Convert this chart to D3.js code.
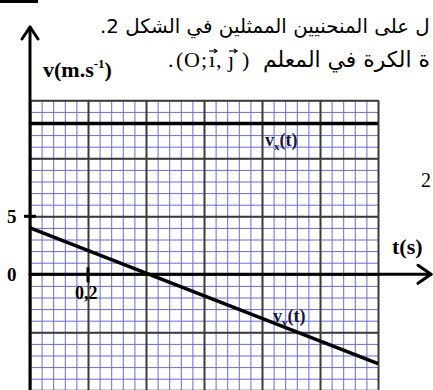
<!DOCTYPE html>
<html>
<head>
<meta charset="utf-8">
<script src="https://cdn.jsdelivr.net/npm/d3@7"></script>
<style>
  html, body { margin: 0; padding: 0; background: #fff; }
  svg { display: block; }
  .lat { font-family: "Liberation Serif", "Times New Roman", serif; }
  .ar { font-family: "DejaVu Sans", "Noto Sans", sans-serif; }
</style>
</head>
<body>
<div id="wrapper"></div>
<script>
const vxT = [0, 1.2];
const vxV = [13, 13];
const vyT = [0, 1.2];
const vyV = [4, -7.7];

// labelled ticks
const yTickValues = [5, 0];
const yTickText = ["5", "0"];
const xTickValues = [0.2];
const xTickText = ["0,2"];

// grid steps
const tMax = 1.2, tMajorStep = 0.2, tMinorStep = 0.04;
const vTop = 15, vBottom = -11, vMajorStep = 5, vMinorStep = 1;

const width = 433, height = 390;

const svg = d3.select("#wrapper")
  .append("svg")
  .attr("width", width)
  .attr("height", height);

const x = d3.scaleLinear().domain([0, tMax]).range([30, 378]);
const y = d3.scaleLinear().domain([0, vTop]).range([274.3, 100.3]);

const gridTop = y(vTop), gridBottom = y(vBottom);

const minorT = d3.range(0, tMax + 1e-9, tMinorStep).map(d => +d.toFixed(3));
const majorT = d3.range(0, tMax + 1e-9, tMajorStep).map(d => +d.toFixed(3));
const minorV = d3.range(vBottom, vTop + 1e-9, vMinorStep);
const majorV = minorV.filter(d => d % vMajorStep === 0);

function grid(axis, cls, color, w) {
  const g = svg.append("g").attr("class", cls).call(axis);
  g.select(".domain").remove();
  g.selectAll("line").attr("stroke", color).attr("stroke-width", w);
  g.selectAll("text").remove();
  return g;
}

// minor grid (blue)
grid(d3.axisBottom(x).tickValues(minorT).tickSize(-(gridBottom - gridTop)).tickFormat(""),
  "gx minor", "#6a6ad6", 1).attr("transform", `translate(0,${gridBottom})`);
grid(d3.axisLeft(y).tickValues(minorV).tickSize(-(x(tMax) - x(0))).tickFormat(""),
  "gy minor", "#6a6ad6", 1).attr("transform", `translate(${x(0)},0)`);

// major grid (dark)
grid(d3.axisBottom(x).tickValues(majorT).tickSize(-(gridBottom - gridTop)).tickFormat(""),
  "gx major", "#3a3a3a", 2).attr("transform", `translate(0,${gridBottom})`);
grid(d3.axisLeft(y).tickValues(majorV).tickSize(-(x(tMax) - x(0))).tickFormat(""),
  "gy major", "#3a3a3a", 2).attr("transform", `translate(${x(0)},0)`);

// axes with arrows
const axisG = svg.append("g").attr("stroke", "#000").attr("fill", "none")
  .attr("stroke-width", 3).attr("stroke-linecap", "round").attr("stroke-linejoin", "round");
axisG.append("line").attr("x1", x(0)).attr("y1", 27).attr("x2", x(0)).attr("y2", height + 5);
axisG.append("polyline").attr("points", `${x(0) - 8},39 ${x(0)},27 ${x(0) + 8},39`);
axisG.append("line").attr("x1", x(0)).attr("y1", y(0)).attr("x2", 431).attr("y2", y(0));
axisG.append("polyline").attr("points", `418,${y(0) - 9} 431,${y(0)} 418,${y(0) + 9}`);

// tick marks
svg.selectAll("line.ytick").data(yTickValues.filter(d => d !== 0)).enter()
  .append("line").attr("class", "ytick")
  .attr("x1", x(0) - 6).attr("x2", x(0) + 6)
  .attr("y1", d => y(d)).attr("y2", d => y(d))
  .attr("stroke", "#000").attr("stroke-width", 3);
svg.selectAll("line.xtick").data(xTickValues).enter()
  .append("line").attr("class", "xtick")
  .attr("x1", d => x(d)).attr("x2", d => x(d))
  .attr("y1", y(0) - 7).attr("y2", y(0) + 8)
  .attr("stroke", "#000").attr("stroke-width", 3);

// curves
const line = d3.line().x(d => x(d[0])).y(d => y(d[1]));
svg.append("path").datum(d3.zip(vxT, vxV)).attr("d", line)
  .attr("fill", "none").attr("stroke", "#000").attr("stroke-width", 3.5);
svg.append("path").datum(d3.zip(vyT, vyV)).attr("d", line)
  .attr("fill", "none").attr("stroke", "#000").attr("stroke-width", 3.5);

// tick labels
svg.selectAll("text.ylab").data(yTickValues).enter()
  .append("text").attr("class", "ylab lat")
  .attr("x", 7).attr("y", d => y(d) + 7)
  .attr("font-size", 19).attr("font-weight", "bold")
  .text((d, i) => yTickText[i]);
svg.selectAll("text.xlab").data(xTickValues).enter()
  .append("text").attr("class", "xlab lat")
  .attr("x", d => x(d) - 13).attr("y", y(0) + 25)
  .attr("font-size", 18).attr("font-weight", "bold")
  .text((d, i) => xTickText[i]);

// axis titles
const vTitle = svg.append("text").attr("class", "lat")
  .attr("x", 43).attr("y", 77).attr("font-size", 22).attr("font-weight", "bold");
vTitle.append("tspan").text("v(m.s");
vTitle.append("tspan").attr("font-size", 13).attr("dy", -9).text("-1");
vTitle.append("tspan").attr("dy", 9).text(")");

svg.append("text").attr("class", "lat")
  .attr("x", 392).attr("y", 254).attr("font-size", 22).attr("font-weight", "bold")
  .text("t(s)");

// curve labels
function curveLabel(px, py, sub) {
  const t = svg.append("text").attr("class", "lat")
    .attr("x", px).attr("y", py).attr("font-size", 18).attr("font-weight", "bold")
    .attr("fill", "#16163a");
  t.append("tspan").text("v");
  t.append("tspan").attr("font-size", 11).attr("dy", 4).text(sub);
  t.append("tspan").attr("dy", -4).text("(t)");
}
curveLabel(265, 146, "x");
curveLabel(273, 322, "y");

// Arabic statement lines, sized to fill the same span as in the scan
function fitText(sel, target, maxSize) {
  const fs = +sel.attr("font-size");
  const w = sel.node().getComputedTextLength();
  if (w > 0) sel.attr("font-size", Math.min(maxSize, fs * target / w));
}

const ar1 = svg.append("text").attr("class", "ar")
  .attr("direction", "rtl").attr("text-anchor", "end")
  .attr("x", 100).attr("y", 33).attr("font-size", 20)
  .text("ل على المنحنيين  الممثلين في الشكل 2.");
fitText(ar1, 330, 22);

const ar2 = svg.append("text").attr("class", "ar")
  .attr("direction", "rtl").attr("text-anchor", "end")
  .attr("x", 263).attr("y", 67).attr("font-size", 20)
  .text("ة الكرة في المعلم");
fitText(ar2, 167, 23);

svg.append("text").attr("class", "lat")
  .attr("x", "168 176 184 201 209 216 228 242").attr("y", 67)
  .attr("font-size", 22)
  .text(".(O;ı,ȷ)");

// vector arrows over i and j
[209, 229].forEach(ax => {
  const g = svg.append("g").attr("stroke", "#000").attr("stroke-width", 1.2).attr("fill", "none");
  g.append("line").attr("x1", ax).attr("y1", 51).attr("x2", ax + 8).attr("y2", 51);
  g.append("polyline").attr("points", `${ax + 5},49 ${ax + 8},51 ${ax + 5},53`);
});

svg.append("text").attr("class", "lat")
  .attr("x", 421).attr("y", 187).attr("font-size", 20)
  .text("2");

// top-left rule
svg.append("line").attr("x1", 0).attr("y1", 1.5).attr("x2", 38).attr("y2", 1.5)
  .attr("stroke", "#000").attr("stroke-width", 3);
</script>
</body>
</html>
